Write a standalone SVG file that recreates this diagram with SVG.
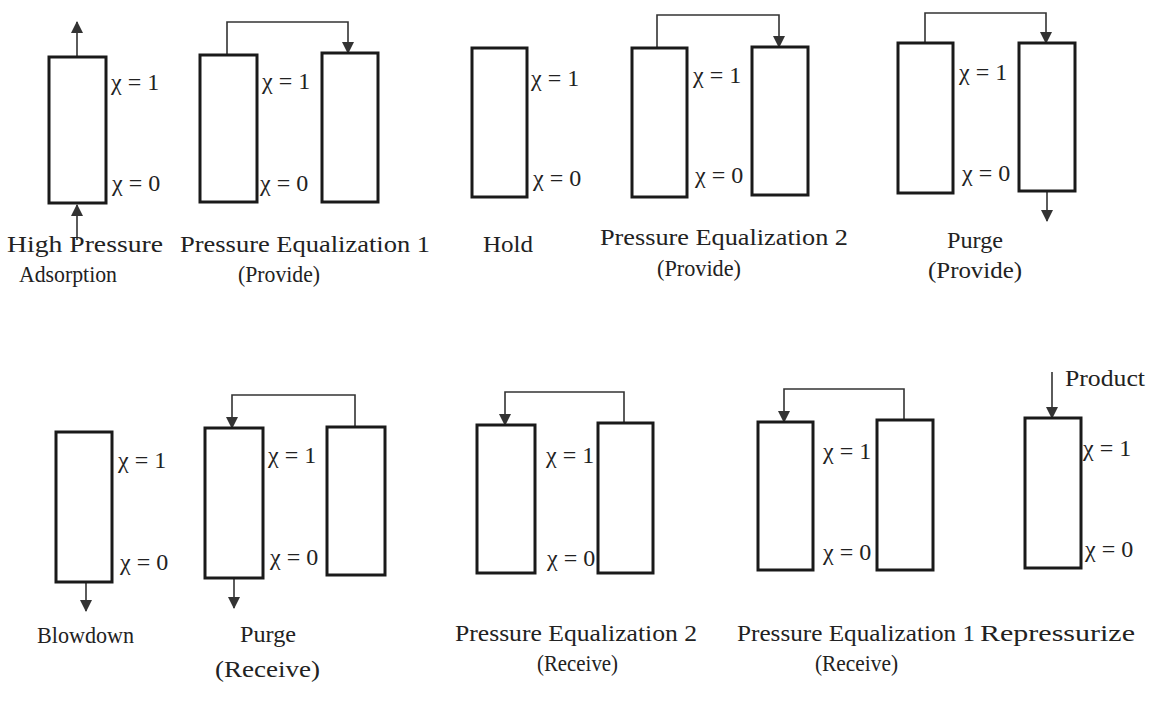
<svg xmlns="http://www.w3.org/2000/svg" width="1154" height="712" viewBox="0 0 1154 712">
<defs>
<marker id="ah" markerUnits="userSpaceOnUse" markerWidth="12" markerHeight="12" viewBox="0 0 12 12" refX="11" refY="6" orient="auto">
<path d="M0,0 L12,6 L0,12 Z" fill="#333"/>
</marker>
<style>
.col{fill:#fff;stroke:#1a1a1a;stroke-width:3}
.ln{fill:none;stroke:#333;stroke-width:1.6}
.x{font-family:"Liberation Serif","Times New Roman",serif;font-size:24px;fill:#222}
.lb{font-family:"Liberation Serif","Times New Roman",serif;font-size:24px;fill:#222}
</style>
</defs>
<rect width="1154" height="712" fill="#fff"/>

<g id="connectors">
<path class="ln" d="M77,57 V22" marker-end="url(#ah)"/>
<path class="ln" d="M77,240 V205" marker-end="url(#ah)"/>
<path class="ln" d="M227,55 V22 H348 V53" marker-end="url(#ah)"/>
<path class="ln" d="M657,48 V15 H779 V47" marker-end="url(#ah)"/>
<path class="ln" d="M925,43 V13 H1046 V43" marker-end="url(#ah)"/>
<path class="ln" d="M1047,191 V221" marker-end="url(#ah)"/>
<path class="ln" d="M86,582 V611" marker-end="url(#ah)"/>
<path class="ln" d="M355,427 V395 H232 V428" marker-end="url(#ah)"/>
<path class="ln" d="M234,578 V608" marker-end="url(#ah)"/>
<path class="ln" d="M624,423 V392 H505 V425" marker-end="url(#ah)"/>
<path class="ln" d="M904,420 V389 H784 V422" marker-end="url(#ah)"/>
<path class="ln" d="M1052,372 V418" marker-end="url(#ah)"/>
</g>

<g id="step-high-pressure-adsorption">
<rect class="col" x="49" y="57" width="57" height="146"/>
<text class="x" x="111" y="90">χ = 1</text>
<text class="x" x="112" y="191">χ = 0</text>
<text class="lb" x="7" y="252" textLength="156" lengthAdjust="spacingAndGlyphs">High Pressure</text>
<text class="lb" x="19" y="282" textLength="98" lengthAdjust="spacingAndGlyphs">Adsorption</text>
</g>

<g id="step-pe1-provide">
<rect class="col" x="200" y="55" width="57" height="147"/>
<rect class="col" x="322" y="53" width="56" height="149"/>
<text class="x" x="262" y="89">χ = 1</text>
<text class="x" x="260" y="191">χ = 0</text>
<text class="lb" x="180" y="252" textLength="250" lengthAdjust="spacingAndGlyphs">Pressure Equalization 1</text>
<text class="lb" x="238" y="282" textLength="82" lengthAdjust="spacingAndGlyphs">(Provide)</text>
</g>

<g id="step-hold">
<rect class="col" x="472" y="48" width="55" height="149"/>
<text class="x" x="531" y="86">χ = 1</text>
<text class="x" x="533" y="186">χ = 0</text>
<text class="lb" x="483" y="252" textLength="50" lengthAdjust="spacingAndGlyphs">Hold</text>
</g>

<g id="step-pe2-provide">
<rect class="col" x="632" y="48" width="55" height="149"/>
<rect class="col" x="752" y="47" width="56" height="148"/>
<text class="x" x="693" y="83">χ = 1</text>
<text class="x" x="695" y="183">χ = 0</text>
<text class="lb" x="600" y="245" textLength="248" lengthAdjust="spacingAndGlyphs">Pressure Equalization 2</text>
<text class="lb" x="657" y="276" textLength="84" lengthAdjust="spacingAndGlyphs">(Provide)</text>
</g>

<g id="step-purge-provide">
<rect class="col" x="898" y="43" width="55" height="150"/>
<rect class="col" x="1019" y="43" width="56" height="148"/>
<text class="x" x="959" y="80">χ = 1</text>
<text class="x" x="962" y="181">χ = 0</text>
<text class="lb" x="947" y="248" textLength="56" lengthAdjust="spacingAndGlyphs">Purge</text>
<text class="lb" x="928" y="278" textLength="94" lengthAdjust="spacingAndGlyphs">(Provide)</text>
</g>

<g id="step-blowdown">
<rect class="col" x="56" y="432" width="56" height="150"/>
<text class="x" x="118" y="468">χ = 1</text>
<text class="x" x="120" y="570">χ = 0</text>
<text class="lb" x="37" y="643" textLength="97" lengthAdjust="spacingAndGlyphs">Blowdown</text>
</g>

<g id="step-purge-receive">
<rect class="col" x="205" y="428" width="58" height="150"/>
<rect class="col" x="327" y="427" width="58" height="148"/>
<text class="x" x="268" y="463">χ = 1</text>
<text class="x" x="270" y="565">χ = 0</text>
<text class="lb" x="240" y="642" textLength="56" lengthAdjust="spacingAndGlyphs">Purge</text>
<text class="lb" x="215" y="677" textLength="105" lengthAdjust="spacingAndGlyphs">(Receive)</text>
</g>

<g id="step-pe2-receive">
<rect class="col" x="477" y="425" width="58" height="148"/>
<rect class="col" x="598" y="423" width="55" height="150"/>
<text class="x" x="546" y="463">χ = 1</text>
<text class="x" x="547" y="566">χ = 0</text>
<text class="lb" x="455" y="641" textLength="242" lengthAdjust="spacingAndGlyphs">Pressure Equalization 2</text>
<text class="lb" x="537" y="671" textLength="81" lengthAdjust="spacingAndGlyphs">(Receive)</text>
</g>

<g id="step-pe1-receive">
<rect class="col" x="758" y="422" width="55" height="148"/>
<rect class="col" x="877" y="420" width="56" height="150"/>
<text class="x" x="823" y="459">χ = 1</text>
<text class="x" x="823" y="560">χ = 0</text>
<text class="lb" x="737" y="641" textLength="238" lengthAdjust="spacingAndGlyphs">Pressure Equalization 1</text>
<text class="lb" x="815" y="671" textLength="83" lengthAdjust="spacingAndGlyphs">(Receive)</text>
</g>

<g id="step-repressurize">
<rect class="col" x="1025" y="418" width="56" height="150"/>
<text class="x" x="1083" y="456">χ = 1</text>
<text class="x" x="1085" y="557">χ = 0</text>
<text class="lb" x="1065" y="386" textLength="80" lengthAdjust="spacingAndGlyphs">Product</text>
<text class="lb" x="980" y="641" textLength="155" lengthAdjust="spacingAndGlyphs">Repressurize</text>
</g>
</svg>
